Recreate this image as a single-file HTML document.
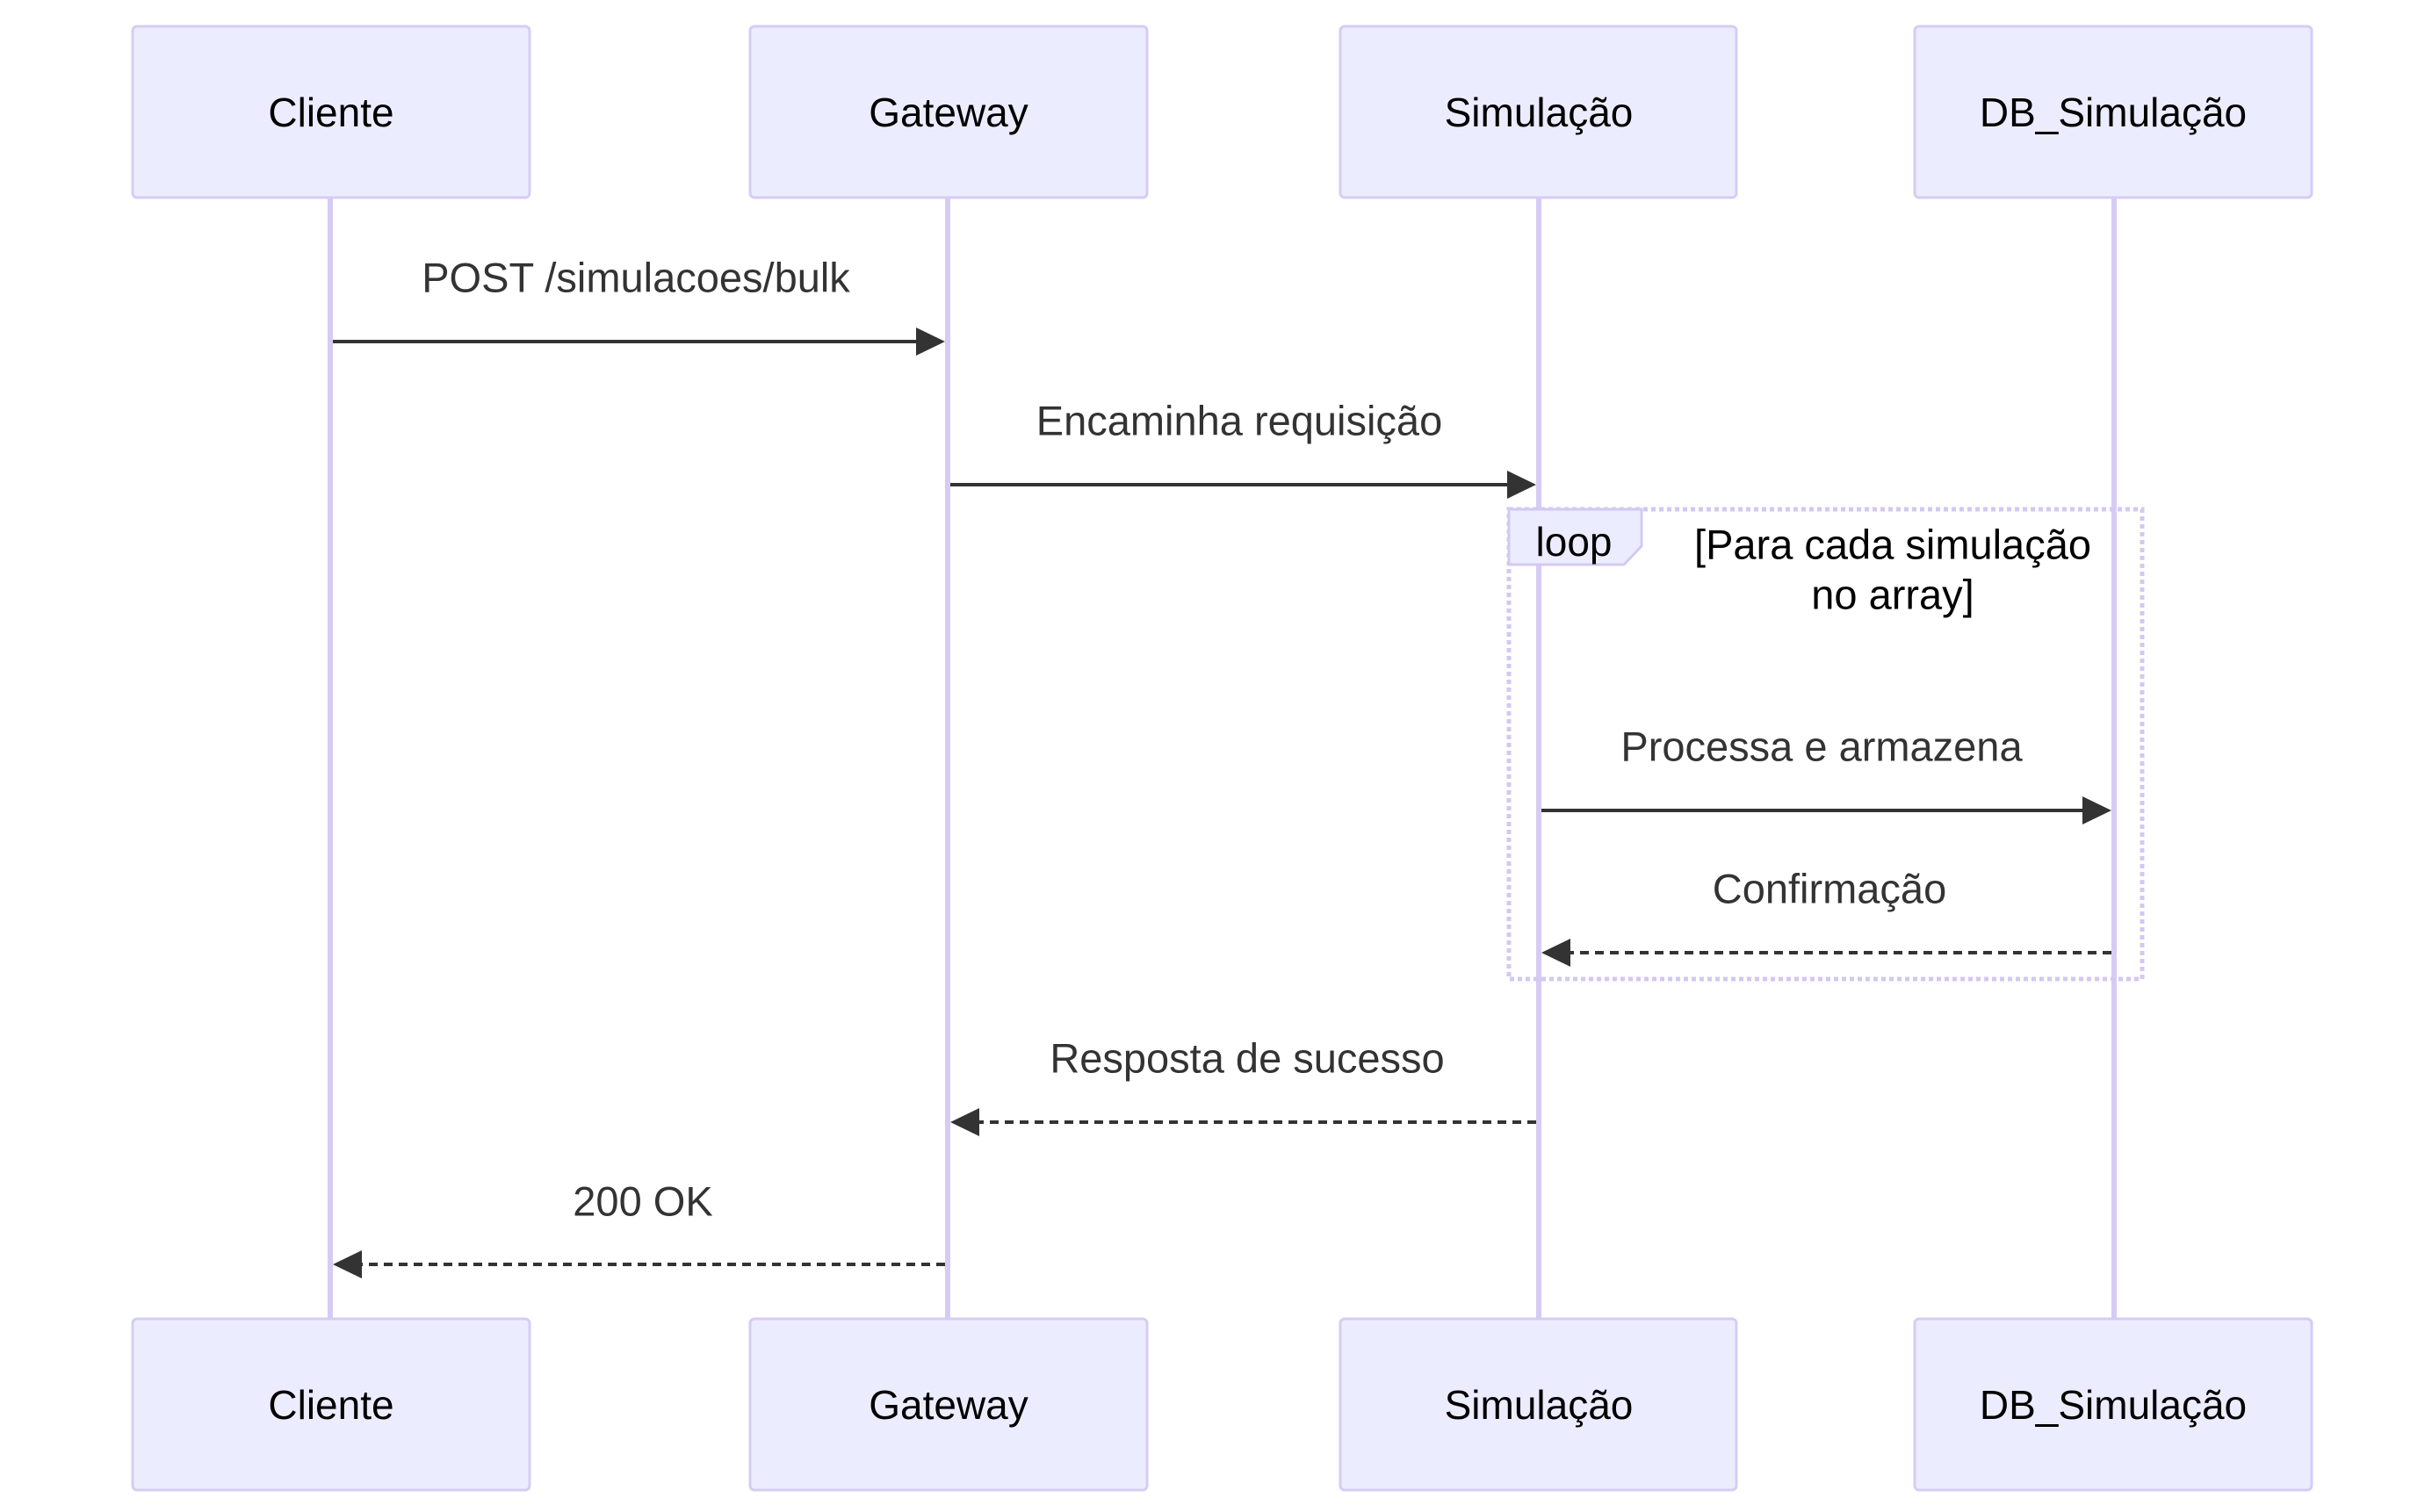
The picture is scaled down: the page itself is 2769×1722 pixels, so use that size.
<!DOCTYPE html>
<html><head><meta charset="utf-8"><style>html,body{margin:0;padding:0;background:#fff}svg{display:block}</style></head>
<body>
<svg width="2769" height="1722" viewBox="0 0 2769 1722" xmlns="http://www.w3.org/2000/svg" font-family="'Liberation Sans', 'DejaVu Sans', sans-serif">
<!-- lifelines -->
<g stroke="#d6ccf3" stroke-width="6">
<line x1="376" y1="225" x2="376" y2="1502"/>
<line x1="1079" y1="225" x2="1079" y2="1502"/>
<line x1="1752" y1="225" x2="1752" y2="1502"/>
<line x1="2407" y1="225" x2="2407" y2="1502"/>
</g>
<!-- boxes -->
<g fill="#ececff" stroke="#d6ccf3" stroke-width="3">
<rect x="151" y="30" width="452" height="195" rx="5"/>
<rect x="854" y="30" width="452" height="195" rx="5"/>
<rect x="1526" y="30" width="451" height="195" rx="5"/>
<rect x="2180" y="30" width="452" height="195" rx="5"/>
<rect x="151" y="1502" width="452" height="195" rx="5"/>
<rect x="854" y="1502" width="452" height="195" rx="5"/>
<rect x="1526" y="1502" width="451" height="195" rx="5"/>
<rect x="2180" y="1502" width="452" height="195" rx="5"/>
</g>
<g font-size="46" fill="#000" text-anchor="middle" dominant-baseline="central">
<text x="377" y="128">Cliente</text>
<text x="1080" y="128">Gateway</text>
<text x="1752" y="128">Simulação</text>
<text x="2406" y="128">DB_Simulação</text>
<text x="377" y="1600">Cliente</text>
<text x="1080" y="1600">Gateway</text>
<text x="1752" y="1600">Simulação</text>
<text x="2406" y="1600">DB_Simulação</text>
</g>
<!-- loop -->
<rect x="1718" y="580" width="721" height="535" fill="none" stroke="#d4c8f2" stroke-width="5" stroke-dasharray="5,4"/>
<path d="M1718 580 H1869 V622 L1849 643 H1718 Z" fill="#ececff" stroke="#d4c8f2" stroke-width="3"/>
<text x="1792" y="617" font-size="46" text-anchor="middle" dominant-baseline="central" fill="#000">loop</text>
<text x="2155" y="620" font-size="47" text-anchor="middle" dominant-baseline="central" fill="#000">[Para cada simulação</text>
<text x="2155" y="677" font-size="47" text-anchor="middle" dominant-baseline="central" fill="#000">no array]</text>
<!-- messages -->
<g stroke="#333" stroke-width="4" fill="none">
<line x1="379" y1="389" x2="1045" y2="389"/>
<line x1="1082" y1="552" x2="1718" y2="552"/>
<line x1="1755" y1="923" x2="2373" y2="923"/>
<line x1="2404" y1="1085" x2="1786" y2="1085" stroke-dasharray="10,7"/>
<line x1="1749" y1="1278" x2="1113" y2="1278" stroke-dasharray="10,7"/>
<line x1="1076" y1="1440" x2="410" y2="1440" stroke-dasharray="10,7"/>
</g>
<g fill="#333">
<path d="M1076 389 L1043 373 V405 Z"/>
<path d="M1749 552 L1716 536 V568 Z"/>
<path d="M2404 923 L2371 907 V939 Z"/>
<path d="M1755 1085 L1788 1069 V1101 Z"/>
<path d="M1082 1278 L1115 1262 V1294 Z"/>
<path d="M379 1440 L412 1424 V1456 Z"/>
</g>
<g font-size="47" fill="#333" text-anchor="middle" dominant-baseline="central">
<text x="724" y="316">POST /simulacoes/bulk</text>
<text x="1411" y="479">Encaminha requisição</text>
<text x="2074" y="850">Processa e armazena</text>
<text x="2083" y="1012">Confirmação</text>
<text x="1420" y="1205">Resposta de sucesso</text>
<text x="732" y="1368">200 OK</text>
</g>
</svg>
</body></html>
